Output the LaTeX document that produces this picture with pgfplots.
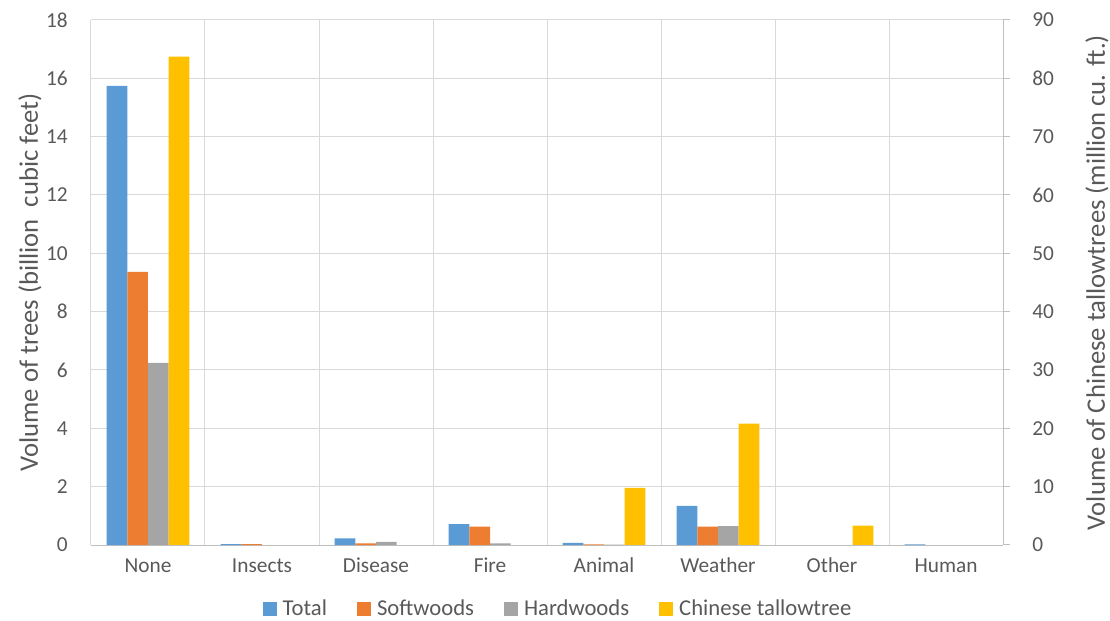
\documentclass[border=0pt]{standalone}
\usepackage{fontspec}
\setmainfont{Carlito}
\usepackage{pgfplots}
\pgfplotsset{compat=1.18}

\definecolor{cTotal}{HTML}{5B9BD5}
\definecolor{cSoft}{HTML}{ED7D31}
\definecolor{cHard}{HTML}{A5A5A5}
\definecolor{cTall}{HTML}{FFC000}
\definecolor{txt}{HTML}{595959}
\definecolor{gridc}{HTML}{D9D9D9}
\definecolor{axc}{HTML}{BFBFBF}

\pgfplotsset{
  sq legend/.style={legend image code/.code={\fill[##1] (0pt,-5pt) rectangle (10.5pt,5pt);}},
  common/.style={
    at={(0,0)}, anchor=south west, scale only axis,
    width=684pt, height=393.75pt,
    xmin=-0.5, xmax=7.5,
    /pgf/number format/assume math mode=true,
    tick label style={font=\fontsize{16}{19}\selectfont, text=txt},
    label style={font=\fontsize{20}{24}\selectfont, text=txt},
  },
}

\begin{document}
\begin{tikzpicture}
\path[use as bounding box] (-68.25pt,-57pt) rectangle (764.25pt,408.75pt);

% volumes of all trees, billion cubic feet (left axis)
\begin{axis}[
  common,
  ymin=0, ymax=18, ytick={0,2,...,18},
  xtick={0,...,7},
  xticklabels={None,Insects,Disease,Fire,Animal,Weather,Other,Human},
  major tick length=0pt,
  extra x ticks={-0.5,0.5,...,7.5}, extra x tick labels={},
  extra x tick style={grid=major, major tick length=0pt},
  ymajorgrids, grid style={gridc, line width=0.75pt},
  axis x line*=bottom, axis y line*=left,
  axis line style={-},
  x axis line style={axc, line width=0.75pt},
  y axis line style={gridc, line width=0.75pt},
  xticklabel style={anchor=base, inner sep=0pt, yshift=-20.25pt},
  yticklabel style={anchor=east, inner sep=0pt, xshift=-17.25pt},
  ylabel={Volume of trees (billion\ \ cubic feet)},
  ylabel style={at={(axis description cs:-0.0669,0.5)}, anchor=center},
  legend columns=4,
  legend style={at={(axis description cs:0.5,0)}, anchor=center,
    yshift=-48pt, xshift=7.5pt, draw=none, fill=none,
    font=\fontsize{17}{20}\selectfont, text=txt,
    column sep=4.5pt, /tikz/every even column/.append style={column sep=22.5pt},
    nodes={inner sep=0pt}},
]
\addplot[ybar, bar width=0.1816, bar shift=-0.2724, fill=cTotal, draw=none, sq legend]
  coordinates {(0,15.74) (1,0.03) (2,0.23) (3,0.72) (4,0.07) (5,1.34) (7,0.02)};
\addlegendentry{Total}
\addplot[ybar, bar width=0.1816, bar shift=-0.0908, fill=cSoft, draw=none, sq legend]
  coordinates {(0,9.36) (1,0.03) (2,0.06) (3,0.63) (4,0.02) (5,0.63)};
\addlegendentry{Softwoods}
\addplot[ybar, bar width=0.1816, bar shift=0.0908, fill=cHard, draw=none, sq legend]
  coordinates {(0,6.24) (2,0.11) (3,0.06) (4,0.01) (5,0.65)};
\addlegendentry{Hardwoods}
\addlegendimage{fill=cTall, draw=none, sq legend}
\addlegendentry{Chinese tallowtree}
\end{axis}

% Chinese tallowtree volume, million cubic feet (right axis)
\begin{axis}[
  common,
  ymin=0, ymax=90, ytick={0,10,...,90},
  axis x line=none, axis y line*=right,
  axis line style={-},
  y axis line style={axc, line width=0.75pt},
  ytick pos=right, yticklabel pos=right,
  ytick align=outside, major tick length=5.25pt,
  ytick style={axc, line width=0.75pt},
  yticklabel style={anchor=west, inner sep=0pt, xshift=16.5pt},
  ylabel={Volume of Chinese tallowtrees (million cu. ft.)},
  ylabel style={at={(axis description cs:1.1031,0.5)}, anchor=center},
]
\addplot[ybar, bar width=0.1816, bar shift=0.2724, fill=cTall, draw=none]
  coordinates {(0,83.7) (4,9.8) (5,20.8) (6,3.3)};
\end{axis}
\end{tikzpicture}
\end{document}
